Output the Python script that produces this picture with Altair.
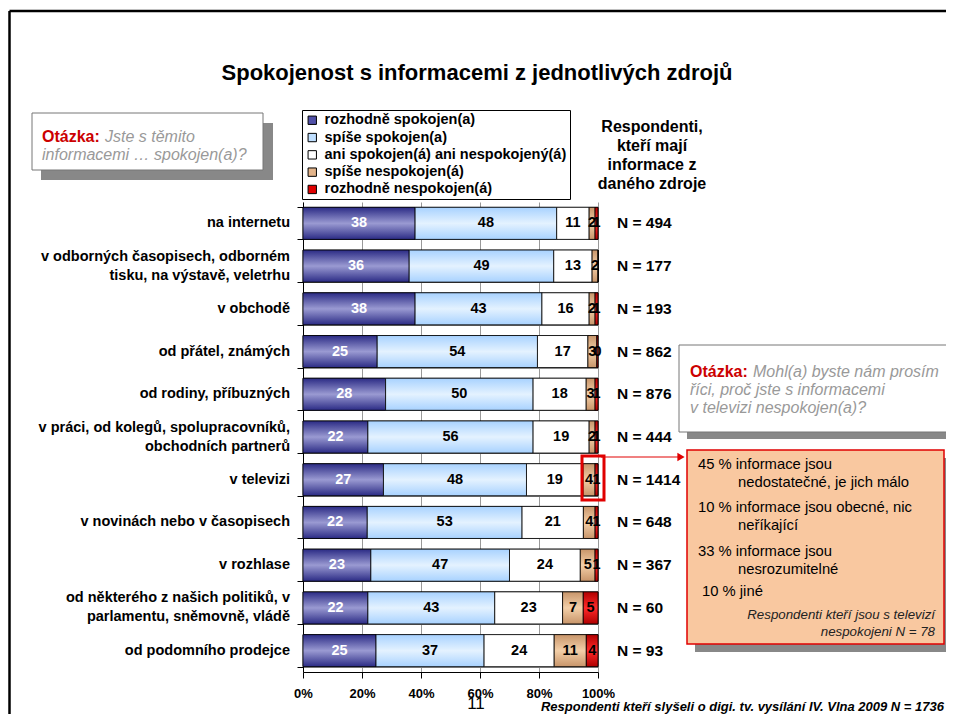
import altair as alt
import pandas as pd

FONT = "Liberation Sans"

categories = [
    "na internetu",
    "v odborných časopisech, odborném|tisku, na výstavě, veletrhu",
    "v obchodě",
    "od přátel, známých",
    "od rodiny, příbuzných",
    "v práci, od kolegů, spolupracovníků,|obchodních partnerů",
    "v televizi",
    "v novinách nebo v časopisech",
    "v rozhlase",
    "od některého z našich politiků, v|parlamentu, sněmovně, vládě",
    "od podomního prodejce",
]
series = [
    "rozhodně spokojen(a)",
    "spíše spokojen(a)",
    "ani spokojen(á) ani nespokojený(á)",
    "spíše nespokojen(á)",
    "rozhodně nespokojen(á)",
]
dark = [38, 36, 38, 25, 28, 22, 27, 22, 23, 22, 25]
light = [48, 49, 43, 54, 50, 56, 48, 53, 47, 43, 37]
neutral = [11, 13, 16, 17, 18, 19, 19, 21, 24, 23, 24]
tan = [2, 2, 2, 3, 3, 2, 4, 4, 5, 7, 11]
red = [1, 0, 1, 0.4, 1, 1, 1, 1, 1, 5, 4]
n_resp = [494, 177, 193, 862, 876, 444, 1414, 648, 367, 60, 93]

flat_colors = ["#5050a8", "#bfdfff", "#ffffff", "#e3b48a", "#e00000"]
grad_stops = [
    ["#2b2b85", "#9a9ad2", "#2b2b85"],
    ["#a8d2ff", "#e4f2ff", "#a8d2ff"],
    ["#ffffff", "#ffffff", "#ffffff"],
    ["#c8956a", "#f3cfa8", "#c8956a"],
    ["#b00000", "#ff2a2a", "#b00000"],
]
text_colors = ["white", "black", "black", "black", "black"]

# long table
rows = []
for i, c in enumerate(categories):
    vals = [dark[i], light[i], neutral[i], tan[i], red[i]]
    tot = sum(vals)
    cum = 0.0
    for j, s in enumerate(series):
        v = vals[j]
        start = cum / tot
        cum += v
        end = cum / tot
        rows.append(dict(cat=c, series=s, sidx=j, value=v, start=start, end=end,
                         mid=(start + end) / 2,
                         label=str(int(round(v))) if v > 0 else "",
                         tc=text_colors[j]))
df = pd.DataFrame(rows)
ndf = pd.DataFrame({"cat": categories, "n": [f"N = {v}" for v in n_resp]})

# category label table (split multi-line labels)
lab_rows = []
for c in categories:
    parts = c.split("|")
    if len(parts) == 1:
        lab_rows.append(dict(cat=c, line=parts[0], pos="single"))
    else:
        lab_rows.append(dict(cat=c, line=parts[0], pos="top"))
        lab_rows.append(dict(cat=c, line=parts[1], pos="bottom"))
ldf = pd.DataFrame(lab_rows)

OX, OY = 303, 202  # plot origin in page coordinates
def px(x):
    return x - OX
def py(y):
    return y - OY

yenc = alt.Y("cat:N", sort=categories,
             scale=alt.Scale(paddingInner=0.25, paddingOuter=0.125),
             axis=alt.Axis(title=None, tickBand="extent", labels=False,
                           tickSize=6, tickColor="black",
                           domainColor="black", gridColor="#999999", grid=True))

base_bars = alt.Chart(df).mark_bar(stroke="black", strokeWidth=0.8).encode(
    y=yenc,
    x=alt.X("start:Q", scale=alt.Scale(domain=[0, 1]),
            axis=alt.Axis(title=None, values=[0, 0.2, 0.4, 0.6, 0.8, 1.0], format="%",
                          labelFont=FONT, labelFontSize=13, labelFontWeight="bold",
                          labelColor="black", labelPadding=9, tickSize=6, labelFlush=False,
                          tickColor="black", domainColor="black",
                          gridColor="#999999", grid=True)),
    x2="end:Q",
    color=alt.Color("series:N", scale=alt.Scale(domain=series, range=flat_colors),
                    legend=alt.Legend(orient="none", legendX=-1, legendY=-92, title=None,
                                      symbolType="square", symbolSize=70,
                                      symbolStrokeColor="black", symbolStrokeWidth=1,
                                      labelFont=FONT, labelFontSize=14.5,
                                      labelFontWeight="bold", labelColor="black",
                                      strokeColor="black", fillColor="white",
                                      padding=3, rowPadding=2.3, labelOffset=5,
                                      labelLimit=400)),
)

grad_layers = []
for j, s in enumerate(series):
    g = alt.LinearGradient(gradient="linear", x1=0, y1=0, x2=0, y2=1,
                           stops=[alt.GradientStop(color=grad_stops[j][0], offset=0),
                                  alt.GradientStop(color=grad_stops[j][1], offset=0.5),
                                  alt.GradientStop(color=grad_stops[j][2], offset=1)])
    grad_layers.append(
        alt.Chart(df[df.sidx == j]).mark_bar(fill=g, stroke="black", strokeWidth=0.8).encode(
            y=alt.Y("cat:N", sort=categories), x="start:Q", x2="end:Q")
    )

labels = alt.Chart(df[df.label != ""]).mark_text(
    font=FONT, fontSize=14.5, fontWeight="bold").encode(
    y=alt.Y("cat:N", sort=categories), x="mid:Q", text="label:N",
    color=alt.Color("tc:N", scale=None))

nlabels = alt.Chart(ndf).mark_text(font=FONT, fontSize=15.5, fontWeight="bold",
                                    align="left", color="black").encode(
    y=alt.Y("cat:N", sort=categories), x=alt.value(px(617)), text="n:N")

cat_label_layers = []
for pos, dy in [("single", 0), ("top", -9.5), ("bottom", 9.5)]:
    cat_label_layers.append(
        alt.Chart(ldf[ldf.pos == pos]).mark_text(
            font=FONT, fontSize=14.5, fontWeight="bold", color="black",
            align="right", baseline="middle", dy=dy).encode(
            y=alt.Y("cat:N", sort=categories), x=alt.value(px(290)), text="line:N")
    )

one = pd.DataFrame({"a": [0]})

def rect(x1, y1, x2, y2, **kw):
    return alt.Chart(one).mark_rect(**kw).encode(
        x=alt.value(px(x1)), x2=alt.value(px(x2)), y=alt.value(py(y1)), y2=alt.value(py(y2)))

def txt(t, x, y, **kw):
    params = dict(font=FONT, fontSize=14.8, color="black", align="left", baseline="middle")
    params.update(kw)
    return alt.Chart(one).mark_text(**params).encode(
        x=alt.value(px(x)), y=alt.value(py(y)), text=alt.value(t))

annot = []
# frame
annot.append(alt.Chart(one).mark_rule(color="black", strokeWidth=2.5).encode(
    x=alt.value(px(9.5)), x2=alt.value(px(954)), y=alt.value(py(11))))
annot.append(alt.Chart(one).mark_rule(color="black", strokeWidth=2.5).encode(
    x=alt.value(px(9.5)), y=alt.value(py(11)), y2=alt.value(py(722))))
# title
annot.append(txt("Spokojenost s informacemi z jednotlivých zdrojů", 477, 73,
                 fontSize=22, fontWeight="bold", align="center"))
# header right
annot.append(txt("Respondenti,\nkteří mají\ninformace z\ndaného zdroje", 652, 119,
                 fontSize=16, fontWeight="bold", align="center", baseline="top",
                 lineBreak="\n", lineHeight=19))
# question box 1
annot.append(rect(41, 123, 273, 180, fill="#888888"))
annot.append(rect(32, 113, 263, 170, fill="white", stroke="#777777", strokeWidth=1))
annot.append(txt("Otázka:", 42, 137, fontSize=16, fontWeight="bold", color="#cc0000"))
annot.append(txt("Jste s těmito", 105, 137, fontSize=16, fontStyle="italic", color="#999999"))
annot.append(txt("informacemi … spokojen(a)?", 42, 155, fontSize=16, fontStyle="italic", color="#999999"))
# question box 2
annot.append(rect(687, 352, 958, 439, fill="#888888"))
annot.append(rect(679, 345, 951, 432, fill="white", stroke="#777777", strokeWidth=1))
annot.append(txt("Otázka:", 690, 372, fontSize=16, fontWeight="bold", color="#cc0000"))
annot.append(txt("Mohl(a) byste nám prosím", 753, 372, fontSize=16, fontStyle="italic", color="#999999"))
annot.append(txt("říci, proč jste s informacemi", 690, 390, fontSize=16, fontStyle="italic", color="#999999"))
annot.append(txt("v televizi nespokojen(a)?", 690, 408, fontSize=16, fontStyle="italic", color="#999999"))
# orange box
annot.append(rect(695, 458, 950, 652, fill="#888888"))
annot.append(rect(687, 450, 944, 644, fill="#f9c8a0", stroke="#e00000", strokeWidth=1.5))
annot.append(txt("45 % informace jsou", 698, 465))
annot.append(txt("nedostatečné, je jich málo", 738, 483))
annot.append(txt("10 % informace jsou obecné, nic", 698, 508))
annot.append(txt("neříkající", 738, 526))
annot.append(txt("33 %  informace jsou", 698, 552))
annot.append(txt("nesrozumitelné", 738, 570))
annot.append(txt("10 %  jiné", 702, 592))
annot.append(txt("Respondenti kteří jsou s televizí", 935, 615, fontSize=13.3,
                 fontStyle="italic", align="right", color="#222222"))
annot.append(txt("nespokojeni N = 78", 935, 632, fontSize=13.3,
                 fontStyle="italic", align="right", color="#222222"))
# arrow
annot.append(alt.Chart(one).mark_rule(color="#f08080", strokeWidth=2).encode(
    x=alt.value(px(601)), x2=alt.value(px(680)), y=alt.value(py(457))))
annot.append(alt.Chart(one).mark_point(shape="triangle-right", filled=True, color="#e00000",
                                        size=70, opacity=1).encode(
    x=alt.value(px(681)), y=alt.value(py(457))))
# red box around TV segment
annot.append(rect(582, 456, 604, 500, fill="transparent", stroke="#e00000", strokeWidth=3))
# footer
annot.append(txt("11", 476, 704, fontSize=17, align="center"))
annot.append(txt("Respondenti kteří slyšeli o digi. tv. vysílání IV. Vlna 2009 N = 1736", 944, 707,
                 fontSize=13, fontWeight="bold", fontStyle="italic", align="right"))

chart = alt.layer(base_bars, *grad_layers, labels, nlabels, *cat_label_layers, *annot).properties(
    width=295, height=470,
    autosize=alt.AutoSizeParams(type="none"),
    padding={"left": 295, "top": 194, "right": 348, "bottom": 42},
    background="white",
).configure_view(stroke=None)

chart.save("out.html", embed_options={"renderer": "svg", "actions": False})
